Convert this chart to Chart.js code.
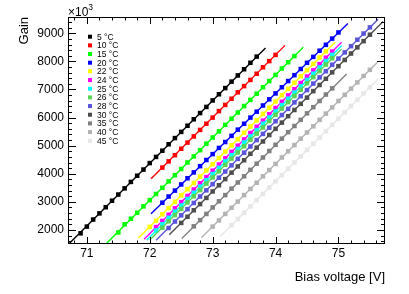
<!DOCTYPE html>
<html>
<head>
<meta charset="utf-8">
<script src="https://cdn.jsdelivr.net/npm/chart.js@4/dist/chart.umd.min.js"></script>
<style>
  html, body { margin: 0; padding: 0; background: #fff; }
  canvas { display: block; }
</style>
</head>
<body>
<canvas id="gainChart" width="409" height="294"></canvas>
<script>
// temperatures and colours of each series
const tempLabels = ["5 °C", "10 °C", "15 °C", "20 °C", "22 °C", "24 °C", "25 °C", "26 °C", "28 °C", "30 °C", "35 °C", "40 °C", "45 °C"];
const seriesColors = ["#000000", "#ff0000", "#00ff00", "#0000ff", "#ffff00", "#ff00ff", "#00ffff", "#59d454", "#5954d9", "#4d4d4d", "#808080", "#b3b3b3", "#e6e6e6"];

// bias voltage grid (V), points sit on it
const biasV = [70.9, 71.0, 71.1, 71.2, 71.3, 71.4, 71.5, 71.6, 71.7, 71.8, 71.9, 72.0, 72.1, 72.2, 72.3, 72.4, 72.5, 72.6, 72.7, 72.8, 72.9,
  73.0, 73.1, 73.2, 73.3, 73.4, 73.5, 73.6, 73.7, 73.8, 73.9, 74.0, 74.1, 74.2, 74.3, 74.4, 74.5, 74.6, 74.7, 74.8, 74.9,
  75.0, 75.1, 75.2, 75.3, 75.4, 75.5];

// first bias voltage of each series
const startV = [70.9, 72.2, 71.5, 72.2, 72.0, 72.1, 72.1, 72.2, 72.3, 72.5, 72.7, 73.0, 73.3];

// measured gain per series
const gain5 = [1880, 2120, 2370, 2590, 2810, 3040, 3260, 3480, 3710, 3930, 4150, 4380, 4600, 4820, 5050, 5270, 5490, 5710, 5940, 6160, 6380, 6610, 6830, 7050, 7280, 7500, 7720, 7950, 8170];
const gain10 = [4220, 4440, 4660, 4890, 5110, 5330, 5560, 5780, 6000, 6230, 6450, 6670, 6900, 7120, 7340, 7560, 7790, 8010, 8230];
const gain15 = [1910, 2200, 2400, 2610, 2840, 3060, 3280, 3500, 3730, 3950, 4170, 4400, 4620, 4840, 5070, 5290, 5510, 5740, 5960, 6180, 6410, 6630, 6850, 7080, 7300, 7520, 7750, 7970, 8190];
const gain20 = [2970, 3190, 3400, 3620, 3840, 4050, 4270, 4490, 4700, 4920, 5130, 5350, 5570, 5780, 6000, 6210, 6430, 6650, 6860, 7080, 7300, 7510, 7730, 7950, 8160, 8380, 8590, 8810, 9030];
const gain22 = [2110, 2330, 2560, 2780, 3000, 3230, 3450, 3670, 3900, 4120, 4340, 4560, 4790, 5010, 5230, 5460, 5680, 5900, 6130, 6350, 6570, 6800, 7020, 7240, 7470, 7690, 7910, 8140, 8360];
const gain24 = [2100, 2320, 2540, 2770, 2990, 3210, 3440, 3660, 3880, 4110, 4330, 4550, 4780, 5000, 5220, 5450, 5670, 5890, 6120, 6340, 6560, 6790, 7010, 7230, 7460, 7680, 7900, 8130, 8350];
const gain25 = [1980, 2200, 2430, 2650, 2870, 3100, 3320, 3540, 3770, 3990, 4210, 4440, 4660, 4880, 5110, 5330, 5550, 5780, 6000, 6220, 6440, 6670, 6890, 7110, 7340, 7560, 7780, 8010, 8230];
const gain26 = [2080, 2310, 2530, 2750, 2980, 3200, 3420, 3650, 3870, 4090, 4320, 4540, 4760, 4980, 5210, 5430, 5650, 5880, 6100, 6320, 6550, 6770, 6990, 7220, 7440, 7660, 7890, 8110];
const gain28 = [2070, 2300, 2520, 2740, 2960, 3190, 3410, 3630, 3860, 4080, 4300, 4530, 4750, 4970, 5200, 5420, 5640, 5870, 6090, 6310, 6540, 6760, 6980, 7210, 7430, 7650, 7880, 8100, 8320, 8540, 8770, 8990, 9210];
const gain30 = [2250, 2470, 2700, 2920, 3140, 3370, 3590, 3810, 4040, 4260, 4480, 4710, 4930, 5150, 5380, 5600, 5820, 6050, 6270, 6490, 6710, 6940, 7160, 7380, 7610, 7830, 8050, 8280, 8500, 8720, 8950];
const gain35 = [2130, 2350, 2570, 2800, 3020, 3240, 3470, 3690, 3910, 4140, 4360, 4580, 4810, 5030, 5250, 5480, 5700, 5920, 6150, 6370, 6590, 6820, 7040];
const gain40 = [2120, 2340, 2570, 2790, 3010, 3240, 3460, 3680, 3910, 4130, 4350, 4580, 4800, 5020, 5250, 5470, 5690, 5920, 6140, 6360, 6590, 6810, 7030, 7250, 7480, 7700];
const gain45 = [2170, 2390, 2610, 2840, 3060, 3280, 3510, 3730, 3950, 4180, 4400, 4620, 4850, 5070, 5290, 5520, 5740, 5960, 6190, 6410, 6630, 6860, 7080];
const allGains = [gain5, gain10, gain15, gain20, gain22, gain24, gain25, gain26, gain28, gain30, gain35, gain40, gain45];

// linear fit lines: start and end
const fitStartV = [70.70, 72.02, 71.31, 72.02, 71.82, 71.91, 71.95, 72.00, 72.10, 72.31, 72.51, 72.82, 73.12];
const fitStartG = [1473, 3820, 1520, 2580, 1710, 1670, 1630, 1640, 1630, 1830, 1700, 1720, 1770];
const fitEndV = [73.84, 74.15, 74.44, 75.15, 74.95, 75.05, 75.05, 75.05, 75.63, 75.71, 75.13, 75.62, 75.63];
const fitEndG = [8480, 8570, 8500, 9350, 8690, 8680, 8560, 8440, 9500, 9420, 7550, 7970, 7370];

// axis ticks
const xTicks = [71, 72, 73, 74, 75];
const yTicks = [2000, 3000, 4000, 5000, 6000, 7000, 8000, 9000];

const FONT = "'Liberation Sans', Arial, sans-serif";
const datasets = [];
const n = tempLabels.length;

for (let i = 0; i < n; i++) {
  const i0 = biasV.indexOf(startV[i]);
  const pts = allGains[i].map((g, k) => ({ x: biasV[i0 + k], y: g }));
  datasets.push({
    label: tempLabels[i],
    data: pts,
    showLine: false,
    pointStyle: 'rect',
    pointRadius: 3.2,
    pointHoverRadius: 3.2,
    backgroundColor: seriesColors[i],
    borderColor: seriesColors[i],
    borderWidth: 0,
    order: 2 * (n - i) + 1
  });
  datasets.push({
    label: tempLabels[i] + " fit",
    data: [{ x: fitStartV[i], y: fitStartG[i] }, { x: fitEndV[i], y: fitEndG[i] }],
    showLine: true,
    pointRadius: 0,
    borderColor: seriesColors[i],
    borderWidth: 1.4,
    clip: 0,
    order: 2 * (n - i)
  });
}

// ROOT-like frame, inward ticks, labels, titles and legend
const rootStyle = {
  id: 'rootStyle',
  afterDraw(chart) {
    const ctx = chart.ctx;
    const a = chart.chartArea;
    const xs = chart.scales.x, ys = chart.scales.y;
    ctx.save();
    ctx.strokeStyle = '#000';
    ctx.lineWidth = 1;
    ctx.strokeRect(a.left + 0.5, a.top + 0.5, a.right - a.left - 1, a.bottom - a.top - 1);

    ctx.beginPath();
    // x ticks (major 1 V, minor 0.2 V)
    for (let v = 70.8; v <= 75.75; v += 0.2) {
      const px = Math.round(xs.getPixelForValue(v)) + 0.5;
      if (px < a.left || px > a.right) continue;
      const major = Math.abs(v - Math.round(v)) < 0.01;
      const len = major ? 7 : 3.5;
      ctx.moveTo(px, a.bottom); ctx.lineTo(px, a.bottom - len);
      ctx.moveTo(px, a.top); ctx.lineTo(px, a.top + len);
    }
    // y ticks (major 1000, minor 200)
    for (let g = 1600; g <= 9580; g += 200) {
      const py = Math.round(ys.getPixelForValue(g)) + 0.5;
      if (py < a.top || py > a.bottom) continue;
      const major = g % 1000 === 0;
      const len = major ? 8 : 4;
      ctx.moveTo(a.left, py); ctx.lineTo(a.left + len, py);
      ctx.moveTo(a.right, py); ctx.lineTo(a.right - len, py);
    }
    ctx.stroke();

    ctx.fillStyle = '#000';
    ctx.font = '12px ' + FONT;
    ctx.textAlign = 'center';
    ctx.textBaseline = 'top';
    xTicks.forEach(v => ctx.fillText(String(v), xs.getPixelForValue(v), 248));
    ctx.textAlign = 'right';
    ctx.textBaseline = 'middle';
    yTicks.forEach(g => ctx.fillText(String(g), a.left - 4, ys.getPixelForValue(g)));

    // exponent
    ctx.textAlign = 'left';
    ctx.textBaseline = 'alphabetic';
    ctx.fillText('\u00d710', a.left, 16);
    const w = ctx.measureText('\u00d710').width;
    ctx.font = '8.5px ' + FONT;
    ctx.fillText('3', a.left + w, 10);

    // axis titles
    ctx.font = '13px ' + FONT;
    ctx.textAlign = 'right';
    ctx.fillText('Bias voltage [V]', a.right, 281);
    ctx.save();
    ctx.translate(28, a.top);
    ctx.rotate(-Math.PI / 2);
    ctx.fillText('Gain', 0, 0);
    ctx.restore();

    // legend
    ctx.font = '8.5px ' + FONT;
    ctx.textAlign = 'left';
    ctx.textBaseline = 'middle';
    for (let i = 0; i < n; i++) {
      const y = 36.7 + i * 8.67;
      ctx.fillStyle = seriesColors[i];
      ctx.fillRect(88, y - 2, 4, 4);
      ctx.fillStyle = '#000';
      ctx.fillText(tempLabels[i], 97, y + 0.5);
    }
    ctx.restore();
  }
};

new Chart(document.getElementById('gainChart'), {
  type: 'scatter',
  data: { datasets: datasets },
  options: {
    responsive: false,
    animation: false,
    layout: { padding: { left: 68, right: 24, top: 17, bottom: 50 } },
    plugins: { legend: { display: false }, tooltip: { enabled: false } },
    scales: {
      x: { type: 'linear', min: 70.7, max: 75.74, display: false },
      y: { type: 'linear', min: 1500, max: 9580, display: false }
    }
  },
  plugins: [rootStyle]
});
</script>
</body>
</html>
